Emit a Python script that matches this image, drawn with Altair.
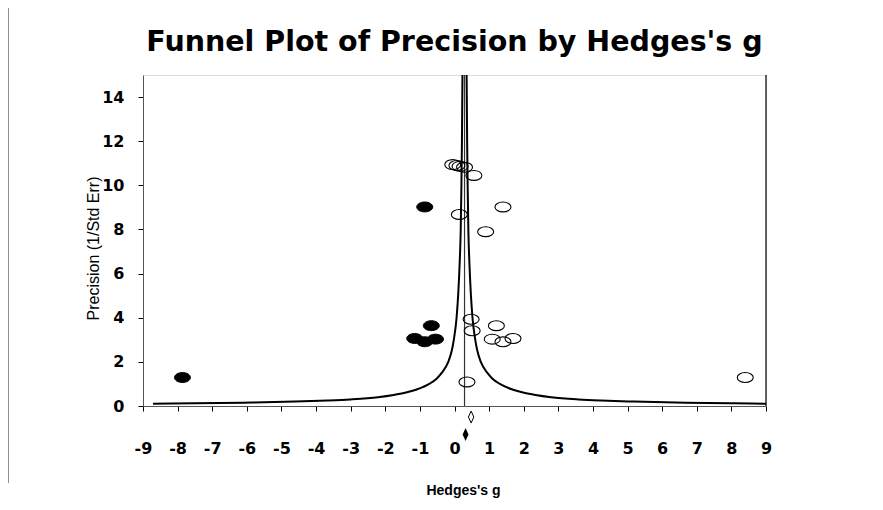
import altair as alt
import pandas as pd

# Observed studies (open ellipses)
obs_g = [-0.05, 0.07, 0.16, 0.29, 0.56, 0.14, 1.40, 0.90, 0.48, 0.51, 1.21, 1.09, 1.40, 1.69, 0.36, 8.40]
obs_p = [10.94, 10.90, 10.86, 10.82, 10.45, 8.68, 9.02, 7.90, 3.93, 3.41, 3.64, 3.03, 2.91, 3.06, 1.09, 1.29]

# Imputed studies (filled ellipses)
imp_g = [-7.86, -0.86, -0.67, -1.15, -0.86, -0.55]
imp_p = [1.29, 9.02, 3.64, 3.06, 2.91, 3.03]

# Mean effect (vertical line)
mean_g = 0.29

# Funnel half-width at several precision levels
funnel_p = [0.1, 0.12, 0.15, 0.2, 0.25, 0.3, 0.4, 0.5, 0.6, 0.75, 1.0, 1.25, 1.5, 2.0, 2.5, 3.0, 4.0, 5.0, 6.5, 8.0, 10.0, 12.0, 15.0]
funnel_half = [9.0, 7.8, 6.4, 4.9, 3.95, 3.3, 2.5, 2.05, 1.72, 1.38, 1.02, 0.8, 0.66, 0.47, 0.37, 0.31, 0.23, 0.185, 0.14, 0.11, 0.09, 0.075, 0.06]

# Combined effects shown below the axis (diamonds)
diamond_g = [0.48, 0.32]
diamond_y = [-0.5, -1.29]
diamond_kind = ["observed", "imputed"]

x_ticks = list(range(-9, 10))
y_ticks = list(range(0, 15, 2))

title_text = "Funnel Plot of Precision by Hedges's g"
x_title = "Hedges's g"
y_title = "Precision (1/Std Err)"

FONT = "Liberation Sans"
WIDE = "DejaVu Sans"
ELLIPSE = "M-1,0A1,0.62,0,1,0,1,0A1,0.62,0,1,0,-1,0Z"
DIAMOND = "M0,-1L0.45,0L0,1L-0.45,0Z"

obs_df = pd.DataFrame({"g": obs_g, "p": obs_p})
imp_df = pd.DataFrame({"g": imp_g, "p": imp_p})
rows = []
for p, h in zip(funnel_p, funnel_half):
    rows.append({"g": mean_g - h, "p": p, "side": "left"})
    rows.append({"g": mean_g + h, "p": p, "side": "right"})
funnel_df = pd.DataFrame(rows)
dia_df = pd.DataFrame({"g": diamond_g, "p": diamond_y, "kind": diamond_kind})

xscale = alt.Scale(domain=[-9, 9], nice=False, zero=False)
yscale = alt.Scale(domain=[0, 15], nice=False, zero=False)

x_axis = alt.Axis(
    title=x_title, values=x_ticks, labelExpr="'' + datum.value", grid=False,
    labelFont=WIDE, labelFontSize=16, labelFontWeight="bold", labelColor="black",
    labelPadding=29, labelFlush=False, labelOverlap=False,
    tickSize=5, tickColor="black", domainColor="#555",
    titleFont=FONT, titleFontSize=14, titleFontWeight="bold", titleColor="black",
    titleX=320, titleY=84, titleBaseline="middle", titleAlign="center",
)
y_axis = alt.Axis(
    title=y_title, values=y_ticks, labelExpr="'' + datum.value", grid=False,
    labelFont=WIDE, labelFontSize=16, labelFontWeight="bold", labelColor="black",
    labelPadding=14, labelFlush=False, labelOverlap=False,
    tickSize=5, tickColor="black", domainColor="#555",
    titleFont=FONT, titleFontSize=16, titleFontWeight="normal", titleColor="black",
    titleX=-50, titleY=173, titleBaseline="middle", titleAngle=270,
)


def xe():
    return alt.X("g:Q", scale=xscale, axis=x_axis)


def ye():
    return alt.Y("p:Q", scale=yscale, axis=y_axis)


funnel = alt.Chart(funnel_df).mark_line(
    color="black", strokeWidth=2, clip=True, interpolate="monotone"
).encode(x=xe(), y=ye(), detail="side:N", order=alt.Order("g:Q"))

mean_line = alt.Chart(pd.DataFrame({"g": [mean_g]})).mark_rule(
    color="#333", strokeWidth=1.2
).encode(x=xe())

right_border = alt.Chart(pd.DataFrame({"g": [9]})).mark_rule(
    color="black", strokeWidth=1.2
).encode(x=xe())

open_pts = alt.Chart(obs_df).mark_point(
    shape=ELLIPSE, size=256, filled=False, stroke="black", strokeWidth=1.1, opacity=1
).encode(x=xe(), y=ye())

filled_pts = alt.Chart(imp_df).mark_point(
    shape=ELLIPSE, size=256, filled=True, fill="black", stroke="black", strokeWidth=1, opacity=1
).encode(x=xe(), y=ye())

dia_open = alt.Chart(dia_df[dia_df.kind == "observed"]).mark_point(
    shape=DIAMOND, size=144, filled=False, stroke="black", strokeWidth=1, opacity=1, clip=False
).encode(x=xe(), y=ye())

dia_fill = alt.Chart(dia_df[dia_df.kind == "imputed"]).mark_point(
    shape=DIAMOND, size=169, filled=True, fill="black", opacity=1, clip=False
).encode(x=xe(), y=ye())

page_line = alt.Chart(pd.DataFrame({"a": [0]})).mark_rule(
    color="#222", strokeWidth=1
).encode(x=alt.value(-135), y=alt.value(-67), y2=alt.value(408))

title_mark = alt.Chart(pd.DataFrame({"t": [title_text]})).mark_text(
    font=WIDE, fontSize=28.5, fontWeight="bold", color="black",
    align="center", baseline="middle",
).encode(x=alt.value(311.5), y=alt.value(-33), text="t:N")

chart = alt.layer(
    funnel, mean_line, right_border, open_pts, filled_pts, dia_open, dia_fill,
    page_line, title_mark
).properties(
    width=623, height=331,
    autosize=alt.AutoSizeParams(type="none"),
    padding={"left": 135, "top": 67, "right": 109, "bottom": 96},
).configure_view(stroke=None).configure(background="white")

chart.save("out.html", embed_options={"renderer": "svg", "actions": False})
